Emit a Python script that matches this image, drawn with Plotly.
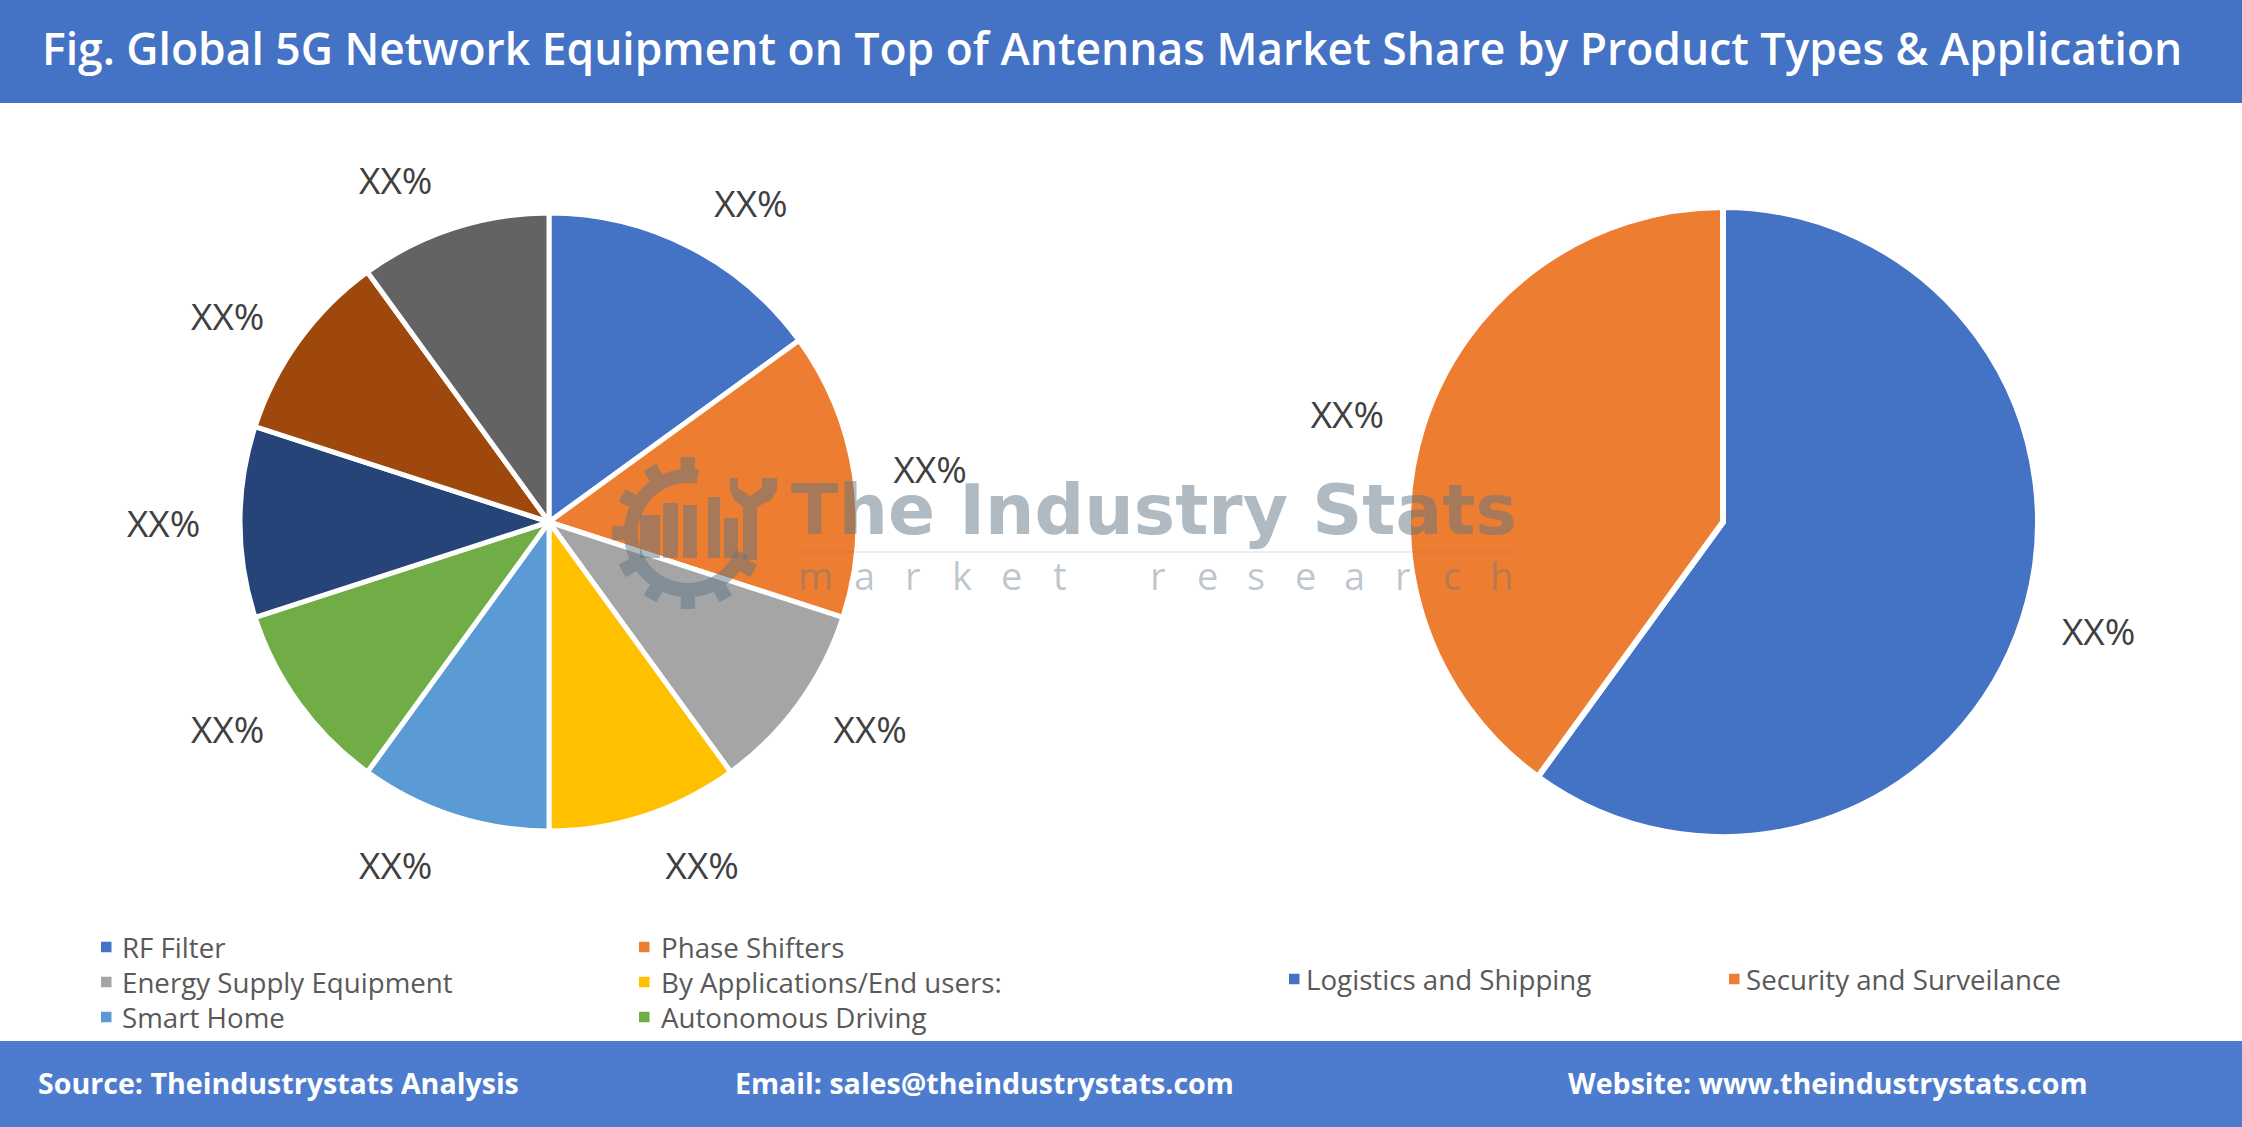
import numpy as np
import plotly.graph_objects as go

W, H = 2242, 1127

title_text = "Fig. Global 5G Network Equipment on Top of Antennas Market Share by Product Types & Application"

left_labels = ["RF Filter", "Phase Shifters", "Energy Supply Equipment",
               "By Applications/End users:", "Smart Home", "Autonomous Driving",
               "Segment 7", "Segment 8", "Segment 9"]
left_values = [15, 15, 10, 10, 10, 10, 10, 10, 10]
left_colors = ["#4472C4", "#ED7D31", "#A5A5A5", "#FFC000", "#5B9BD5",
               "#70AD47", "#264478", "#9E480E", "#636363"]
left_text = ["XX%"] * 9
left_legend_count = 6

right_labels = ["Logistics and Shipping", "Security and Surveilance"]
right_values = [60, 40]
right_colors = ["#4472C4", "#ED7D31"]
right_text = ["XX%"] * 2

footer_items = ["Source: Theindustrystats Analysis",
                "Email: sales@theindustrystats.com",
                "Website: www.theindustrystats.com"]

wm_title = "The Industry Stats"
wm_sub = "market research"


def px(x):
    return x / W


def py(y):
    return 1 - y / H


WM = "rgba(95,118,133,0.5)"
WM_SUB = "rgba(95,118,133,0.42)"
LBL_FONT = dict(family="Open Sans", size=37, color="#404040")

# pie geometry in pixels: centre, slice radius, radius used to anchor labels
pies = [
    dict(labels=left_labels, values=left_values, colors=left_colors,
         text=left_text, cx=549, cy=522, r=309, r_lbl=336, lw=5),
    dict(labels=right_labels, values=right_values, colors=right_colors,
         text=right_text, cx=1723, cy=522, r=315, r_lbl=343, lw=6),
]

fig = go.Figure()
for p in pies:
    cx, cy = p["cx"], p["cy"]
    # invisible, slightly larger pie that carries the outside labels
    rl = p["r_lbl"]
    fig.add_trace(go.Pie(
        labels=p["labels"], values=p["values"], text=p["text"],
        textinfo="text", textposition="outside", sort=False,
        direction="clockwise", rotation=0,
        marker=dict(colors=["rgba(0,0,0,0)"] * len(p["values"]),
                    line=dict(width=0)),
        textfont=LBL_FONT, showlegend=False, hoverinfo="skip",
        domain=dict(x=[px(cx - rl), px(cx + rl)], y=[py(cy + rl), py(cy - rl)]),
    ))
    r = p["r"]
    fig.add_trace(go.Pie(
        labels=p["labels"], values=p["values"],
        textinfo="none", sort=False, direction="clockwise", rotation=0,
        marker=dict(colors=p["colors"], line=dict(color="white", width=p["lw"])),
        showlegend=False,
        domain=dict(x=[px(cx - r), px(cx + r)], y=[py(cy + r), py(cy - r)]),
        hovertemplate="%{label}: %{percent}<extra></extra>",
    ))

shapes = []
annotations = []

# title bar and footer bar
shapes.append(dict(type="rect", xref="paper", yref="paper", x0=0, x1=1,
                   y0=py(103), y1=1, fillcolor="#4472C4", line=dict(width=0),
                   layer="below"))
shapes.append(dict(type="rect", xref="paper", yref="paper", x0=0, x1=1,
                   y0=0, y1=py(1041), fillcolor="#4D7CCF", line=dict(width=0),
                   layer="below"))
annotations.append(dict(text=title_text, xref="paper", yref="paper",
                        x=px(40), y=py(48), xanchor="left", yanchor="middle",
                        showarrow=False,
                        font=dict(family="Open Sans", size=44.4, color="white",
                                  weight=600)))
for txt, x0 in zip(footer_items, [36, 733, 1566]):
    annotations.append(dict(text=txt, xref="paper", yref="paper",
                            x=px(x0), y=py(1082), xanchor="left",
                            yanchor="middle", showarrow=False,
                            font=dict(family="Open Sans", size=28.6,
                                      color="white", weight="bold")))

# custom legends
LEG_FONT = dict(family="Open Sans", size=27.7, color="#595959")
SQ = 10.5
left_cols_sq = [101, 639]
left_cols_tx = [120, 659]
left_rows = [947, 982, 1017]
for i in range(left_legend_count):
    c, rr = i % 2, i // 2
    xs, yc = left_cols_sq[c], left_rows[rr]
    shapes.append(dict(type="rect", xref="paper", yref="paper",
                       x0=px(xs), x1=px(xs + SQ), y0=py(yc + SQ / 2),
                       y1=py(yc - SQ / 2), fillcolor=left_colors[i],
                       line=dict(width=0)))
    annotations.append(dict(text=left_labels[i], xref="paper", yref="paper",
                            x=px(left_cols_tx[c]), y=py(yc), xanchor="left",
                            yanchor="middle", showarrow=False, font=LEG_FONT))

right_sq = [1289, 1729]
right_tx = [1304, 1744]
for i in range(len(right_labels)):
    yc = 979
    shapes.append(dict(type="rect", xref="paper", yref="paper",
                       x0=px(right_sq[i]), x1=px(right_sq[i] + SQ),
                       y0=py(yc + SQ / 2), y1=py(yc - SQ / 2),
                       fillcolor=right_colors[i], line=dict(width=0)))
    annotations.append(dict(text=right_labels[i], xref="paper", yref="paper",
                            x=px(right_tx[i]), y=py(yc), xanchor="left",
                            yanchor="middle", showarrow=False, font=LEG_FONT))

# watermark
annotations.append(dict(text=wm_title, xref="paper", yref="paper",
                        x=px(789), y=py(509), xanchor="left", yanchor="middle",
                        showarrow=False,
                        font=dict(family="DejaVu Sans", size=69.5, color=WM,
                                  weight="bold")))
shapes.append(dict(type="line", xref="paper", yref="paper", x0=px(794),
                   x1=px(1516), y0=py(552), y1=py(552),
                   line=dict(color="rgba(95,118,133,0.12)", width=2)))
step = 49
for i, ch in enumerate(wm_sub):
    if ch == " ":
        continue
    annotations.append(dict(text=ch, xref="paper", yref="paper",
                            x=px(815 + i * step), y=py(575), xanchor="center",
                            yanchor="middle", showarrow=False,
                            font=dict(family="Open Sans", size=38,
                                      color=WM_SUB)))


def path_from(points):
    s = "M " + " L ".join(f"{px(x):.5f},{py(y):.5f}" for x, y in points)
    return s + " Z"


# gear
gcx, gcy = 688, 533
r_in, r_out, r_tooth = 50, 64, 76
angs = np.linspace(np.deg2rad(80), np.deg2rad(340), 400)
outer = []
for a in angs:
    deg = np.rad2deg(a) % 30
    rad = r_tooth if (deg < 6 or deg > 24) else r_out
    outer.append((gcx + rad * np.cos(a), gcy - rad * np.sin(a)))
inner = [(gcx + r_in * np.cos(a), gcy - r_in * np.sin(a)) for a in angs[::-1]]
shapes.append(dict(type="path", xref="paper", yref="paper",
                   path=path_from(outer + inner), fillcolor=WM,
                   line=dict(width=0)))
# buildings
for x0, x1, y0 in [(640, 660, 515), (663, 678, 503), (683, 697, 505),
                   (708, 720, 497), (724, 738, 518)]:
    shapes.append(dict(type="rect", xref="paper", yref="paper",
                       x0=px(x0), x1=px(x1), y0=py(558), y1=py(y0),
                       fillcolor=WM, line=dict(width=0)))
# wrench
shapes.append(dict(type="path", xref="paper", yref="paper",
                   path=path_from([(743, 560), (743, 507), (734, 500),
                                   (730, 490), (730, 478), (738, 478),
                                   (738, 488), (750, 496), (762, 488),
                                   (762, 478), (777, 478), (777, 490),
                                   (771, 500), (757, 507), (757, 560)]),
                   fillcolor=WM, line=dict(width=0)))

fig.update_layout(
    width=W, height=H, autosize=False,
    margin=dict(l=0, r=0, t=0, b=0),
    paper_bgcolor="white", plot_bgcolor="white",
    shapes=shapes, annotations=annotations,
    showlegend=False,
)

fig.write_html("out.html", config={"displayModeBar": False},
               post_script="document.body.style.margin='0';")
